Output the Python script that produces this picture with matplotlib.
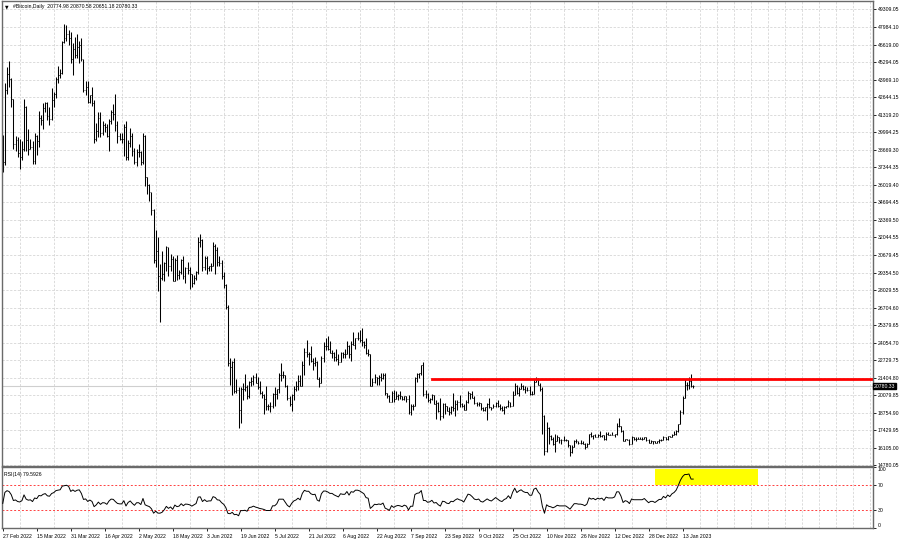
import numpy as np
import matplotlib.pyplot as plt
from matplotlib.patches import Rectangle
import matplotlib.transforms as mtransforms

plt.rcParams['font.family'] = ['Liberation Sans', 'DejaVu Sans']

# Daily bars #Bitcoin, 27 Feb 2022 .. 18 Jan 2023 as (high, low, close)
feb_22 = [(39800, 37000, 37700), (43700, 37500, 43200)]
mar_22 = [(44900, 42900, 44400), (45400, 43400, 44000), (44100, 41900, 42500), (42500, 38700, 39100),
          (39700, 38600, 39400), (39600, 38100, 38400), (39500, 37200, 38100), (39300, 37900, 38700),
          (42500, 38600, 41900), (42000, 38600, 39400), (40200, 38300, 38700), (39500, 38700, 38900),
          (39300, 37600, 37800), (39900, 37600, 39700), (39800, 38300, 39300), (41600, 38900, 41100),
          (41300, 40500, 40900), (42200, 40200, 41800), (42300, 41500, 42200), (42300, 40900, 41200),
          (41900, 40500, 41000), (43300, 40900, 42400), (43000, 41900, 42900), (44200, 42600, 44000),
          (45000, 43700, 44300), (44800, 44100, 44500), (46900, 44400, 46800), (48200, 46700, 47100),
          (48100, 46900, 47400), (47700, 46600, 47100), (47600, 45200, 45500)]
apr_22 = [(46700, 44300, 46300), (47200, 45600, 45800), (47400, 45600, 46400), (46900, 45200, 46600),
          (47100, 45400, 45500), (45500, 43000, 43200), (43900, 42800, 43400), (43900, 42200, 42300),
          (42800, 42200, 42800), (43400, 42000, 42200), (42400, 39200, 39500), (40700, 39300, 40100),
          (41500, 39600, 41100), (41500, 39600, 39900), (40800, 39800, 40500), (40700, 40000, 40400),
          (40600, 39600, 39700), (41000, 38600, 40800), (41700, 40600, 41500), (42100, 40900, 41400),
          (42900, 40100, 40500), (40800, 39200, 39700), (39900, 39400, 39500), (39900, 39200, 39500),
          (40600, 38200, 40400), (40800, 37900, 38100), (39400, 37900, 39200), (40300, 38900, 39700),
          (39900, 38200, 38600), (38800, 37600, 37700)]
may_22 = [(38700, 37400, 38500), (39100, 38100, 38500), (38600, 37500, 37700), (39900, 37600, 39700),
          (39800, 35900, 36600), (36600, 35300, 36000), (36100, 34800, 35500), (35500, 33700, 34100),
          (34200, 30100, 30300), (32600, 29800, 31000), (32100, 28000, 29100), (30000, 25600, 29000),
          (31000, 28800, 29300), (30200, 28700, 30100), (31400, 29500, 31300), (31300, 29100, 29900),
          (30800, 29500, 30400), (30600, 28700, 28700), (30500, 28700, 30300), (30700, 28800, 29200),
          (29600, 28900, 29400), (30400, 29300, 30300), (30600, 28900, 29100), (29800, 28600, 29700),
          (30200, 29300, 29600), (29800, 28100, 29300), (29300, 28300, 28600), (29200, 28500, 29000),
          (29500, 28800, 29400), (32100, 29300, 31700), (32300, 31300, 31800)]
jun_22 = [(31900, 29500, 29800), (30600, 29600, 30500), (30600, 29300, 29700), (29900, 29500, 29900),
          (30100, 29500, 29900), (31700, 29900, 31400), (31500, 29300, 31100), (31300, 29900, 30200),
          (30600, 29900, 30100), (30300, 28900, 29100), (29400, 28200, 28400), (28500, 26600, 26800),
          (26900, 22300, 22500), (22900, 20900, 22200), (22700, 20100, 22600), (22900, 20300, 20400),
          (21300, 20300, 20500), (20700, 17600, 19000), (20700, 18000, 20600), (21000, 19700, 20600),
          (21700, 20400, 20700), (20900, 19800, 20000), (21200, 19900, 21100), (21500, 20800, 21200),
          (21600, 20900, 21500), (21800, 21000, 21000), (21500, 20600, 20700), (21200, 20200, 20300),
          (20400, 19900, 20100), (20200, 18700, 19800)]
jul_22 = [(20800, 19000, 19300), (19400, 19000, 19300), (19600, 18800, 19300), (20300, 19100, 20200),
          (20700, 19300, 20200), (20600, 19800, 20600), (21800, 20300, 21600), (22500, 21200, 21600),
          (21900, 21400, 21600), (21600, 20700, 20800), (20900, 19700, 19900), (20000, 19300, 19400),
          (20200, 18900, 20100), (20800, 19700, 20600), (21200, 20400, 20800), (21600, 20500, 21200),
          (21600, 20800, 20800), (22700, 20800, 22400), (23700, 21600, 23400), (24300, 23000, 23200),
          (23400, 22400, 23200), (23800, 22600, 22700), (22900, 22000, 22500), (23000, 22300, 22600),
          (22700, 21300, 21300), (21500, 20700, 21000), (23100, 21000, 22900), (24100, 22600, 23800),
          (24400, 23500, 23800), (24600, 23500, 23600), (24200, 23300, 23300)]
aug_22 = [(23500, 22900, 23300), (23400, 22700, 23000), (23600, 22700, 22800), (23200, 22400, 22600),
          (23400, 22600, 23300), (23400, 22900, 23200), (23600, 22900, 23200), (24200, 23200, 23800),
          (23900, 22900, 23200), (24200, 22700, 24000), (24900, 23900, 23900), (24400, 23600, 24400),
          (24900, 24300, 24400), (25000, 24100, 24300), (25200, 23800, 24100), (24200, 23700, 23900),
          (24400, 23200, 23300), (23600, 23100, 23200), (23200, 20800, 20800), (21400, 20800, 21100),
          (21700, 21000, 21500), (21500, 20900, 21400), (21600, 20900, 21500), (21800, 21200, 21400),
          (21800, 21300, 21600), (21800, 20100, 20300), (20300, 19900, 20000), (20100, 19600, 19600),
          (20400, 19600, 20300), (20500, 19600, 19800), (20400, 19800, 20000)]
sep_22 = [(20200, 19700, 20100), (20400, 19800, 20000), (20000, 19700, 19800), (20000, 19700, 20000),
          (20000, 19600, 19800), (20100, 18700, 18800), (19400, 18600, 19300), (19400, 19000, 19300),
          (21500, 19300, 21400), (21800, 21100, 21700), (21800, 21400, 21800), (22400, 21600, 22400),
          (22600, 20000, 20200), (20500, 19900, 20200), (20300, 19600, 19700), (19900, 19500, 19800),
          (20200, 19700, 20100), (20100, 19400, 19400), (19700, 18300, 19500), (19600, 18800, 18900),
          (19900, 18200, 18500), (19500, 18400, 19400), (19500, 18700, 19300), (19300, 18900, 18900),
          (19200, 18600, 18800), (19300, 18700, 19200), (20300, 18900, 19100), (19700, 18500, 19400),
          (19700, 19000, 19600), (20100, 19200, 19400)]
oct_22 = [(19500, 19200, 19300), (19400, 19000, 19000), (19700, 19000, 19600), (20400, 19500, 20300),
          (20300, 19800, 20200), (20400, 19900, 19900), (20000, 19400, 19500), (19600, 19300, 19400),
          (19600, 19300, 19500), (19500, 19000, 19100), (19200, 18900, 19000), (19200, 18900, 19200),
          (19500, 18200, 19400), (19900, 19100, 19200), (19200, 19000, 19100), (19400, 19100, 19300),
          (19600, 19200, 19500), (19700, 19200, 19300), (19400, 19000, 19100), (19300, 18900, 19000),
          (19300, 18700, 19200), (19300, 19100, 19300), (19700, 19200, 19600), (19600, 19200, 19300),
          (20400, 19300, 20100), (21000, 20100, 20800), (20900, 20200, 20300), (20700, 20000, 20600),
          (21000, 20600, 20800), (20900, 20500, 20600), (20800, 20300, 20500)]
nov_22 = [(20700, 20400, 20500), (20800, 20100, 20200), (20400, 20100, 20200), (21300, 20200, 21100),
          (21500, 21100, 21300), (21400, 20900, 20900), (21000, 20400, 20600), (20700, 17200, 18500),
          (18600, 15600, 15900), (18100, 15800, 17600), (17700, 16400, 17000), (17100, 16700, 16800),
          (16900, 16300, 16400), (17200, 15800, 16600), (17100, 16600, 16900), (16900, 16500, 16700),
          (16800, 16400, 16700), (17000, 16600, 16700), (16800, 16600, 16700), (16700, 16200, 16300),
          (16300, 15500, 15800), (16300, 15700, 16200), (16700, 16200, 16600), (16800, 16500, 16600),
          (16600, 16400, 16500), (16700, 16400, 16500), (16600, 16400, 16400), (16500, 16000, 16200),
          (16500, 16200, 16400), (17200, 16400, 17200)]
dec_22 = [(17300, 16900, 17000), (17100, 16800, 17100), (17200, 16900, 16900), (17200, 16900, 17100),
          (17400, 16900, 17000), (17100, 16900, 17100), (17100, 16700, 16800), (17300, 16700, 17200),
          (17300, 17100, 17100), (17200, 17100, 17100), (17300, 17100, 17100), (17200, 16900, 17200),
          (18000, 17100, 17800), (18400, 17700, 17800), (17800, 17300, 17400), (17500, 16600, 16600),
          (16800, 16600, 16800), (16800, 16700, 16700), (16800, 16300, 16400), (17000, 16400, 16900),
          (16900, 16700, 16800), (16900, 16600, 16800), (16900, 16800, 16800), (16900, 16800, 16800),
          (16900, 16700, 16800), (16900, 16800, 16900), (16900, 16600, 16700), (16800, 16500, 16500),
          (16700, 16500, 16600), (16600, 16400, 16600), (16600, 16500, 16500)]
jan_23 = [(16600, 16500, 16600), (16800, 16500, 16700), (16800, 16600, 16700), (17000, 16700, 16900),
          (16900, 16700, 16800), (17000, 16700, 17000), (17000, 16900, 16900), (17200, 16900, 17100),
          (17400, 17100, 17200), (17500, 17100, 17400), (17900, 17300, 17900), (19000, 17900, 18800),
          (20000, 18700, 19900), (21300, 19900, 20900), (21100, 20500, 20900), (21500, 20600, 21200),
          (21700, 20700, 20775), (20870.58, 20651.18, 20780.33)]
first_open = 39100

# closes before the visible window (Jan-Feb 2022), only to seed RSI(14)
warmup_closes = [47700, 47300, 46400, 45800, 43400, 43100, 41600, 41800, 41800, 41800, 42700,
                 43900, 42600, 43100, 43200, 43100, 42200, 42400, 41700, 40700, 36500, 35100,
                 36300, 36700, 36900, 36800, 37100, 38000, 38200, 37900, 38500,
                 38700, 36900, 37300, 41500, 41400, 42400, 43800, 44100, 44300, 43600, 42400,
                 42200, 42100, 42600, 44600, 43900, 40600, 40000, 40100, 38400, 37000, 38300,
                 37300, 38300, 39200, 39100]

title_text = "#Bitcoin,Daily  20774.98 20870.58 20651.18 20780.33"
rsi_text = "RSI(14) 79.5926"
date_labels = ["27 Feb 2022", "15 Mar 2022", "31 Mar 2022", "16 Apr 2022", "2 May 2022",
               "18 May 2022", "3 Jun 2022", "19 Jun 2022", "5 Jul 2022", "21 Jul 2022",
               "6 Aug 2022", "22 Aug 2022", "7 Sep 2022", "23 Sep 2022", "9 Oct 2022",
               "25 Oct 2022", "10 Nov 2022", "26 Nov 2022", "12 Dec 2022", "28 Dec 2022",
               "13 Jan 2023"]
price_ticks = [49309.05, 47984.10, 46619.00, 45294.05, 43969.10, 42644.15, 41319.20, 39994.25,
               38669.30, 37344.35, 36019.40, 34694.45, 33369.50, 32044.55, 30679.45, 29354.50,
               28029.55, 26704.60, 25379.65, 24054.70, 22729.75, 21404.80, 20079.85, 18754.90,
               17429.95, 16105.00, 14780.05]
resistance = 21330
resistance_start = 202      # bar index where the red line starts
rsi_box = (307, 355.5, 70, 97)   # day from, day to, rsi from, rsi to

bars = np.array(feb_22 + mar_22 + apr_22 + may_22 + jun_22 + jul_22 + aug_22 + sep_22
                + oct_22 + nov_22 + dec_22 + jan_23, dtype=float)
highs, lows, closes = bars[:, 0], bars[:, 1], bars[:, 2]
opens = np.concatenate([[first_open], closes[:-1]])
x = np.arange(len(closes))


def rsi(values, n=14):
    d = np.diff(values)
    gain = np.where(d > 0, d, 0.0)
    loss = np.where(d < 0, -d, 0.0)
    out = np.full(len(values), np.nan)
    ag, al = gain[:n].mean(), loss[:n].mean()
    out[n] = 100 - 100 / (1 + ag / al)
    for i in range(n, len(d)):
        ag = (ag * (n - 1) + gain[i]) / n
        al = (al * (n - 1) + loss[i]) / n
        out[i + 1] = 100 if al == 0 else 100 - 100 / (1 + ag / al)
    return out


rsi_vals = rsi(np.concatenate([warmup_closes, closes]))[len(warmup_closes):]

W, H = 900, 539
fs = 3.7
fig = plt.figure(figsize=(9, 5.39), dpi=100)
ax = fig.add_axes([1.7 / W, (H - 465.5) / H, 871 / W, 464.5 / H])
ax2 = fig.add_axes([1.7 / W, (H - 528.3) / H, 871 / W, 61.5 / H])

grid_kw = dict(color='#d2d2d2', linestyle=(0, (3, 2)), linewidth=0.55)
for a in (ax, ax2):
    a.set_xlim(-0.5, 409.5)
    a.set_xticks(np.arange(0, 410, 8), minor=True)
    a.set_xticks(np.arange(0, 16 * len(date_labels), 16))
    a.grid(True, which='minor', axis='x', **grid_kw)
    a.yaxis.tick_right()
    a.tick_params(axis='both', which='major', length=2, width=0.6, labelsize=fs, pad=1.5,
                  colors='black')
    a.tick_params(axis='x', which='minor', length=0)
    for s in a.spines.values():
        s.set_color('#6a6a6a')
        s.set_linewidth(1.0)
    a.set_axisbelow(True)

# main price panel
ax.set_ylim(14780, 49914)
ax.set_yticks(price_ticks)
ax.set_yticklabels([f"{v:.2f}" for v in price_ticks])
ax.grid(True, which='major', axis='y', **grid_kw)
ax.tick_params(axis='x', which='major', labelbottom=False, length=0)

ax.vlines(x, lows, highs, color='black', linewidth=0.75)
ax.hlines(opens, x - 0.45, x, color='black', linewidth=0.5)
ax.hlines(closes, x, x + 0.45, color='black', linewidth=0.5)

ax.axhline(closes[-1], color='#cfcfcf', linewidth=0.8, zorder=1)
ax.plot([resistance_start, 409.5], [resistance, resistance], color='#ff0000', linewidth=2)

trans = mtransforms.blended_transform_factory(ax.transAxes, ax.transData)
ax.text(1.0015, closes[-1], f"{closes[-1]:.2f}", transform=trans, fontsize=fs, color='white',
        va='center', ha='left', bbox=dict(boxstyle='square,pad=0.15', fc='black', ec='black'))
ax.text(0.004, 0.988, "\u25bc", transform=ax.transAxes, fontsize=3.3, va='center', ha='left',
        family='DejaVu Sans')
ax.text(0.0125, 0.988, title_text, transform=ax.transAxes, fontsize=fs, va='center', ha='left')

# RSI panel
ax2.set_ylim(0, 100)
ax2.set_yticks([0, 30, 70, 100])
ax2.set_yticklabels(['0', '30', '70', '100'])
labs = ax2.get_yticklabels()
labs[0].set_va('bottom')
labs[-1].set_va('top')
ax2.set_xticklabels(date_labels, ha='left')
ax2.tick_params(axis='x', which='major', pad=2)

d0, d1, r0, r1 = rsi_box
ax2.add_patch(Rectangle((d0, r0), d1 - d0, r1 - r0, facecolor='#ffff00', edgecolor='none',
                        zorder=1))
for lvl in (30, 70):
    ax2.axhline(lvl, color='#ff4040', linestyle=(0, (2, 2)), linewidth=0.7, zorder=2)
ax2.plot(x, rsi_vals, color='black', linewidth=0.7, zorder=3)
ax2.text(0.003, 0.88, rsi_text, transform=ax2.transAxes, fontsize=fs, va='center', ha='left')

fig.savefig('out.png', dpi=100)
